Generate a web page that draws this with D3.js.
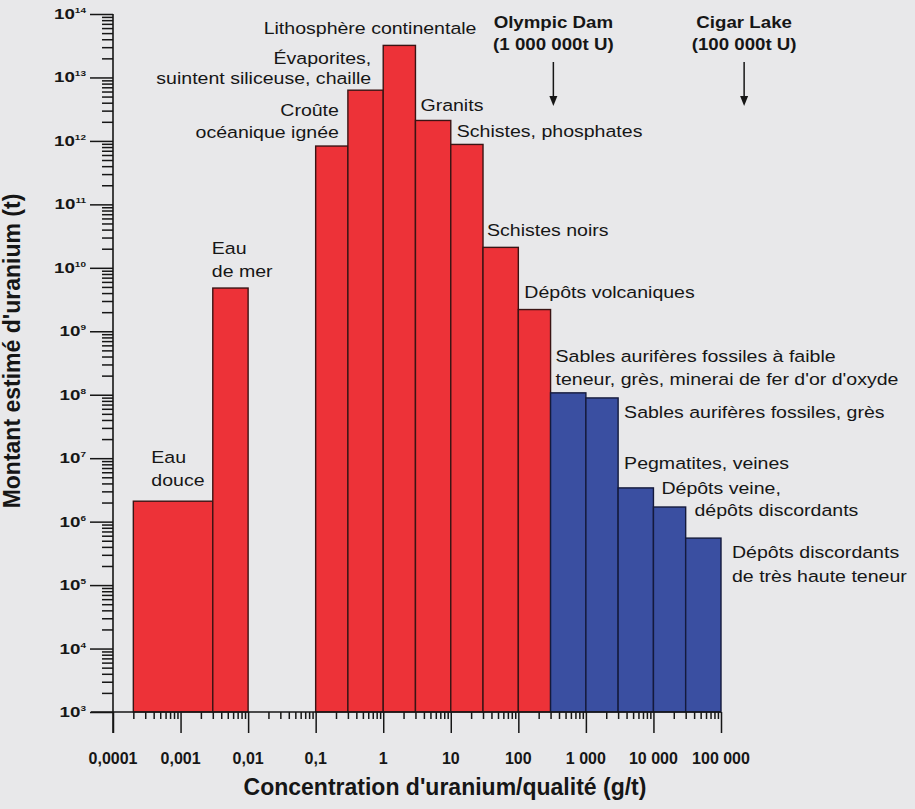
<!DOCTYPE html>
<html>
<head>
<meta charset="utf-8">
<script src="https://cdn.jsdelivr.net/npm/d3@7"></script>
<style>
  body { margin: 0; background: #e8e8ea; }
  svg { display: block; }
  text { font-family: "Liberation Sans", Arial, sans-serif; fill: #161616; }
</style>
</head>
<body>
<div id="chart"></div>
<script>
// bornes des classes de teneur (g/t) et quantités estimées (t)
let lowGrade  = [0.0002, 0.003, 0.1, 0.3, 1, 3, 10, 30, 100, 300, 1000, 3000, 10000, 30000];
let highGrade = [0.003, 0.01, 0.3, 1, 3, 10, 30, 100, 300, 1000, 3000, 10000, 30000, 100000];
let amount    = [2.1e6, 4.8e9, 8.3e11, 6.3e12, 3.2e13, 2.1e12, 8.8e11, 2.1e10, 2.2e9, 1.07e8, 8.9e7, 3.4e6, 1.7e6, 5.5e5];
let kind      = ["r", "r", "r", "r", "r", "r", "r", "r", "r", "b", "b", "b", "b", "b"];
let names = [
    ["Eau", "douce"],
    ["Eau", "de mer"],
    ["Croûte", "océanique ignée"],
    ["Évaporites,", "suintent siliceuse, chaille"],
    ["Lithosphère continentale"],
    ["Granits"],
    ["Schistes, phosphates"],
    ["Schistes noirs"],
    ["Dépôts volcaniques"],
    ["Sables aurifères fossiles à faible", "teneur, grès, minerai de fer d'or d'oxyde"],
    ["Sables aurifères fossiles, grès"],
    ["Pegmatites, veines"],
    ["Dépôts veine,", "dépôts discordants"],
    ["Dépôts discordants", "de très haute teneur"]
];

let xTicks = [1e-4, 1e-3, 1e-2, 1e-1, 1, 10, 100, 1000, 10000, 100000];
let xTickLabels = ["0,0001", "0,001", "0,01", "0,1", "1", "10", "100", "1 000", "10 000", "100 000"];
let yTicks = [1e3, 1e4, 1e5, 1e6, 1e7, 1e8, 1e9, 1e10, 1e11, 1e12, 1e13, 1e14];

let mines = ["Olympic Dam", "Cigar Lake"];
let mineTonnage = ["(1 000 000t U)", "(100 000t U)"];
let mineGrade = [330, 220000];

// placement des étiquettes : coin de référence de la barre + décalages
let place = [
    {ref: "lo", anchor: "start", dx: [18, 18], dy: [-38, -15]},
    {ref: "lo", anchor: "start", dx: [-1, -1], dy: [-34, -11]},
    {ref: "hi", anchor: "end",   dx: [-9, -9], dy: [-30, -8]},
    {ref: "hi", anchor: "end",   dx: [-12, -12], dy: [-26, -6]},
    {ref: "hi", anchor: "end",   dx: [61], dy: [-11]},
    {ref: "lo", anchor: "start", dx: [5], dy: [-9]},
    {ref: "lo", anchor: "start", dx: [6], dy: [-7]},
    {ref: "lo", anchor: "start", dx: [4], dy: [-11]},
    {ref: "lo", anchor: "start", dx: [6], dy: [-12]},
    {ref: "lo", anchor: "start", dx: [5, 5], dy: [-31, -8]},
    {ref: "hi", anchor: "start", dx: [6], dy: [20]},
    {ref: "lo", anchor: "start", dx: [6], dy: [-19]},
    {ref: "lo", anchor: "start", dx: [8, 41], dy: [-13, 9]},
    {ref: "hi", anchor: "start", dx: [11, 11], dy: [20, 44]}
];

let W = 915, H = 809;
let stretch = 1.15;

let svg = d3.select("#chart").append("svg")
    .attr("width", W)
    .attr("height", H);

svg.append("rect").attr("width", W).attr("height", H).attr("fill", "#e8e8ea");

let x = d3.scaleLog().domain([1e-4, 1e5]).range([113, 721]);
let y = d3.scaleLog().domain([1e3, 1e14]).range([712, 14]);

let color = {r: "#ed3238", b: "#3a4fa1"};
let edge = {r: "#3a1414", b: "#141a3c"};

let bars = d3.range(amount.length);

// barres
svg.append("g")
    .selectAll("rect")
    .data(bars)
    .enter()
    .append("rect")
    .attr("x", i => x(lowGrade[i]))
    .attr("y", i => y(amount[i]))
    .attr("width", i => x(highGrade[i]) - x(lowGrade[i]))
    .attr("height", i => y(1e3) - y(amount[i]))
    .attr("fill", i => color[kind[i]])
    .attr("stroke", i => edge[kind[i]])
    .attr("stroke-width", 1.4);

// graduations mineures
function minors(domain) {
    let out = [];
    for (let e = Math.log10(domain[0]); e < Math.log10(domain[1]); e++) {
        for (let k = 2; k <= 9; k++) out.push(k * Math.pow(10, e));
    }
    return out;
}

let gx = svg.append("g").attr("transform", "translate(0," + y(1e3) + ")");
gx.call(d3.axisBottom(x).tickValues(xTicks).tickSize(21).tickFormat(""));
gx.call(g => g.append("g").call(d3.axisBottom(x).tickValues(minors(x.domain())).tickSize(7).tickFormat("")));

let gy = svg.append("g").attr("transform", "translate(" + x(1e-4) + ",0)");
gy.call(d3.axisLeft(y).tickValues(yTicks).tickSize(23).tickFormat(""));
gy.call(g => g.append("g").call(d3.axisLeft(y).tickValues(minors(y.domain())).tickSize(11).tickFormat("")));

svg.selectAll(".domain").remove();
svg.selectAll(".tick line").attr("stroke", "#161616").attr("stroke-width", 1.5);

// axes qui se croisent
svg.append("line")
    .attr("x1", x(1e-4) - 22).attr("x2", x(1e5))
    .attr("y1", y(1e3)).attr("y2", y(1e3))
    .attr("stroke", "#161616").attr("stroke-width", 1.6);
svg.append("line")
    .attr("x1", x(1e-4)).attr("x2", x(1e-4))
    .attr("y1", y(1e14)).attr("y2", y(1e3) + 21)
    .attr("stroke", "#161616").attr("stroke-width", 1.6);

// étiquettes des graduations
svg.append("g")
    .selectAll("text")
    .data(xTicks)
    .enter()
    .append("text")
    .attr("x", d => x(d))
    .attr("y", 764)
    .attr("text-anchor", "middle")
    .style("font-size", "16px")
    .style("font-weight", "bold")
    .text((d, i) => xTickLabels[i]);

let yl = svg.append("g")
    .selectAll("text")
    .data(yTicks)
    .enter()
    .append("text")
    .attr("transform", d => "translate(86," + (y(d) + 5) + ") scale(1.25,1)")
    .attr("text-anchor", "end")
    .style("font-size", "15px")
    .style("font-weight", "bold");
yl.append("tspan").text("10");
yl.append("tspan")
    .attr("dy", -6)
    .style("font-size", "8px")
    .text(d => Math.round(Math.log10(d)));

// titres des axes
svg.append("text")
    .attr("x", 445)
    .attr("y", 795)
    .attr("text-anchor", "middle")
    .style("font-size", "23px")
    .style("font-weight", "bold")
    .text("Concentration d'uranium/qualité (g/t)");

svg.append("text")
    .attr("transform", "translate(20,351) rotate(-90)")
    .attr("text-anchor", "middle")
    .style("font-size", "23px")
    .style("font-weight", "bold")
    .text("Montant estimé d'uranium (t)");

// étiquettes des barres
bars.forEach(i => {
    let p = place[i];
    let bx = p.ref === "lo" ? x(lowGrade[i]) : x(highGrade[i]);
    let by = y(amount[i]);
    names[i].forEach((line, j) => {
        svg.append("text")
            .attr("transform", "translate(" + (bx + p.dx[j]) + "," + (by + p.dy[j]) + ") scale(" + stretch + ",1)")
            .attr("text-anchor", p.anchor)
            .style("font-size", "17px")
            .text(line);
    });
});

// gisements de référence
mines.forEach((m, i) => {
    let mx = x(mineGrade[i]);
    let g = svg.append("g");
    g.append("text")
        .attr("transform", "translate(" + mx + ",28) scale(1.1,1)")
        .attr("text-anchor", "middle")
        .style("font-size", "17px")
        .style("font-weight", "bold")
        .text(m);
    g.append("text")
        .attr("transform", "translate(" + mx + ",50) scale(1.1,1)")
        .attr("text-anchor", "middle")
        .style("font-size", "17px")
        .style("font-weight", "bold")
        .text(mineTonnage[i]);
    g.append("line")
        .attr("x1", mx).attr("x2", mx)
        .attr("y1", 62).attr("y2", 98)
        .attr("stroke", "#161616").attr("stroke-width", 1.5);
    g.append("path")
        .attr("d", "M" + (mx - 4) + ",96 L" + (mx + 4) + ",96 L" + mx + ",106 Z")
        .attr("fill", "#161616");
});
</script>
</body>
</html>
